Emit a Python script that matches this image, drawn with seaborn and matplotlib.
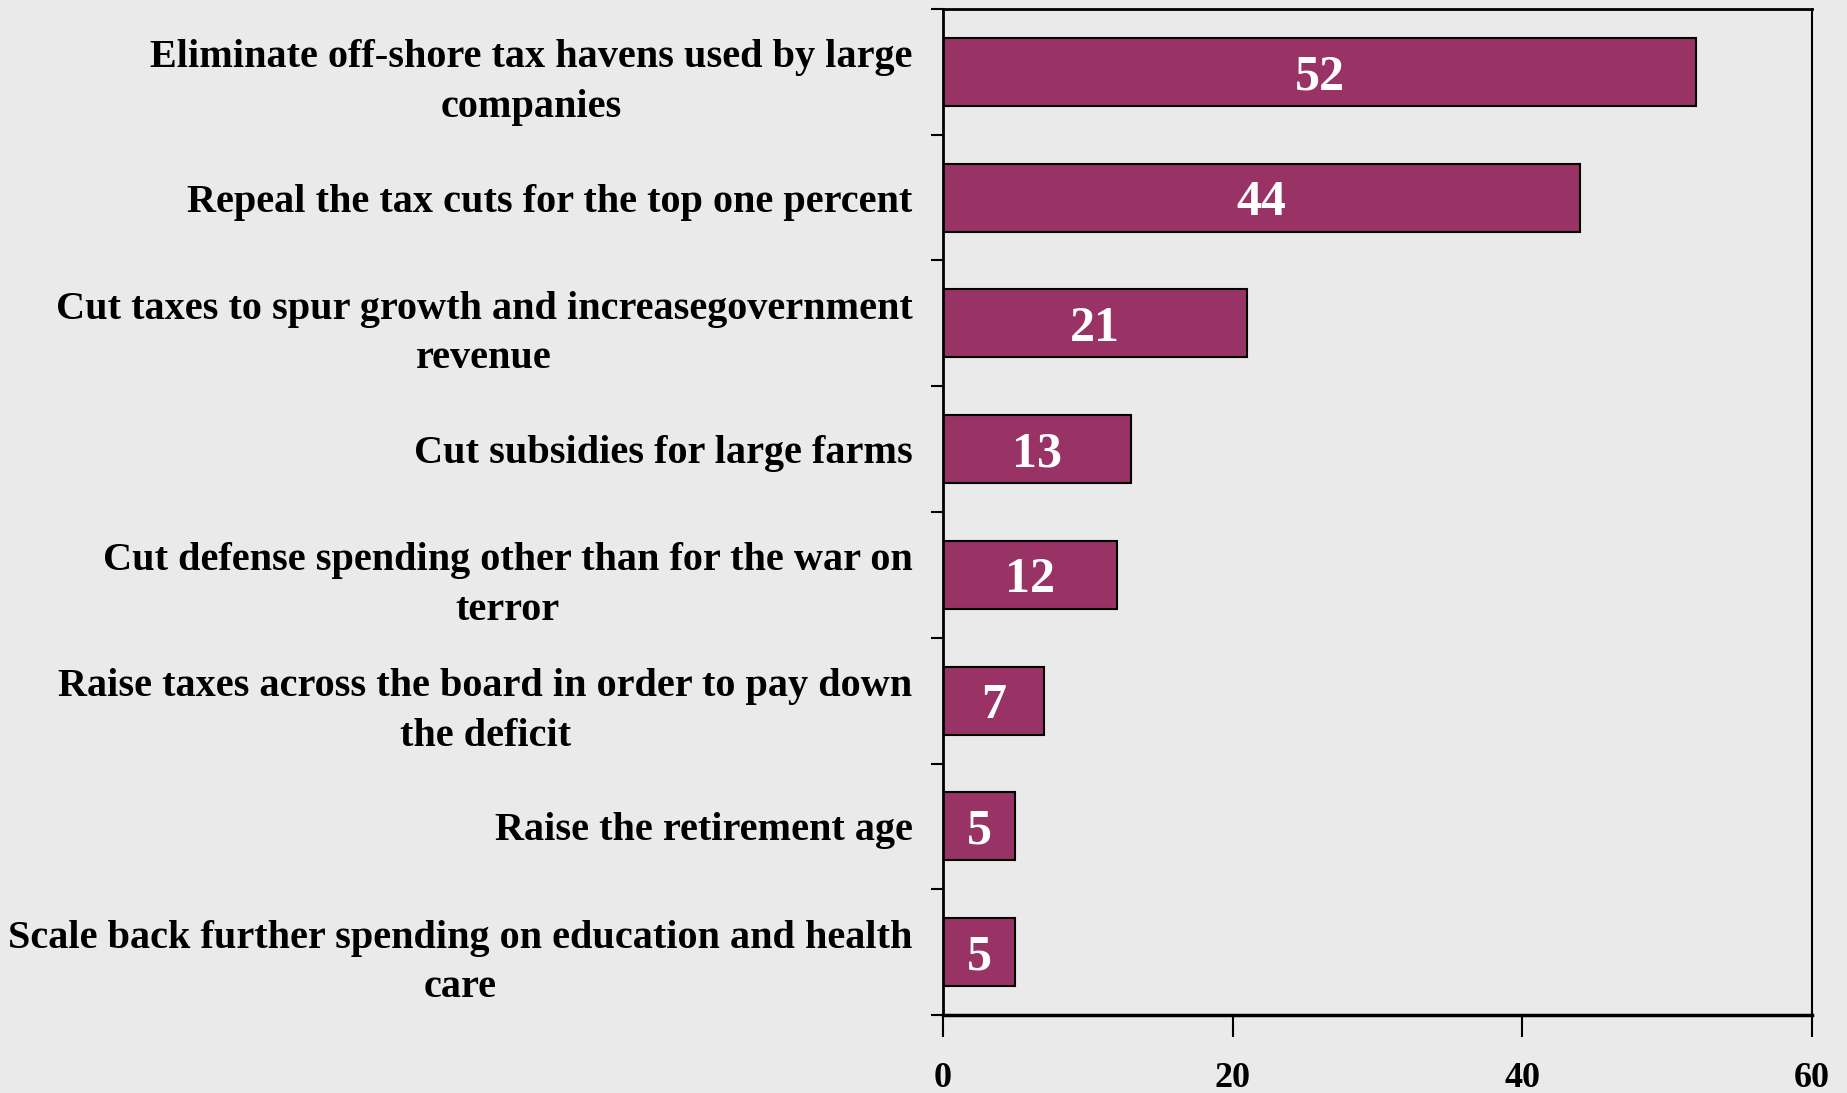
import numpy as np
import pandas as pd
import matplotlib
matplotlib.use("Agg")
import matplotlib.pyplot as plt
import seaborn as sns

# données
options = [
    "Eliminate off-shore tax havens used by large\ncompanies",
    "Repeal the tax cuts for the top one percent",
    "Cut taxes to spur growth and increasegovernment\nrevenue",
    "Cut subsidies for large farms",
    "Cut defense spending other than for the war on\nterror",
    "Raise taxes across the board in order to pay down\nthe deficit",
    "Raise the retirement age",
    "Scale back further spending on education and health\ncare",
]
percents = [52, 44, 21, 13, 12, 7, 5, 5]
x_ticks = [0, 20, 40, 60]

bg = "#eaeaea"
bar_color = "#993366"

df = pd.DataFrame({"option": options, "pct": percents})

sns.set_style("white")
plt.rcParams["font.family"] = ["Liberation Serif", "DejaVu Serif"]
plt.rcParams["font.weight"] = "bold"
plt.rcParams["text.color"] = "black"
plt.rcParams["xtick.color"] = "black"
plt.rcParams["ytick.color"] = "black"

fig = plt.figure(figsize=(18.47, 10.93), dpi=100, facecolor=bg)
ax = fig.add_axes([0.5106, 0.0713, 0.4705, 0.9205])
ax.set_facecolor(bg)

sns.barplot(data=df, x="pct", y="option", orient="h", color=bar_color,
            saturation=1, width=0.54, edgecolor="black", linewidth=1.5, ax=ax)

# valeurs dans les barres
for i, v in enumerate(percents):
    ax.text(v / 2, i, str(v), ha="center", va="center_baseline", color="white",
            fontsize=36, fontweight="bold")

ax.set_xlim(0, 60)
ax.set_ylim(len(options) - 0.5, -0.5)
ax.set_xticks(x_ticks)
ax.set_xticklabels([str(t) for t in x_ticks], fontsize=26, fontweight="bold")

# graduations aux limites des catégories, libellés au centre
ax.set_yticks(np.arange(-0.5, len(options), 1))
ax.set_yticklabels([])
ax.set_yticks(np.arange(len(options)), minor=True)
ax.set_yticklabels(options, minor=True, fontsize=29, fontweight="bold",
                   multialignment="center", linespacing=1.45)
ax.tick_params(axis="y", which="major", direction="out", length=9, width=1.5,
               color="black", left=True)
ax.tick_params(axis="y", which="minor", length=0, pad=22)
ax.tick_params(axis="x", direction="out", length=16, width=1.5, color="black",
               bottom=True, pad=18)
ax.set_xlabel("")
ax.set_ylabel("")

for side in ["left", "bottom", "top", "right"]:
    ax.spines[side].set_visible(True)
    ax.spines[side].set_color("black")
ax.spines["left"].set_linewidth(2)
ax.spines["bottom"].set_linewidth(2.5)
ax.spines["top"].set_linewidth(2)
ax.spines["right"].set_linewidth(1.5)

fig.savefig("out.png", dpi=100, facecolor=bg)
